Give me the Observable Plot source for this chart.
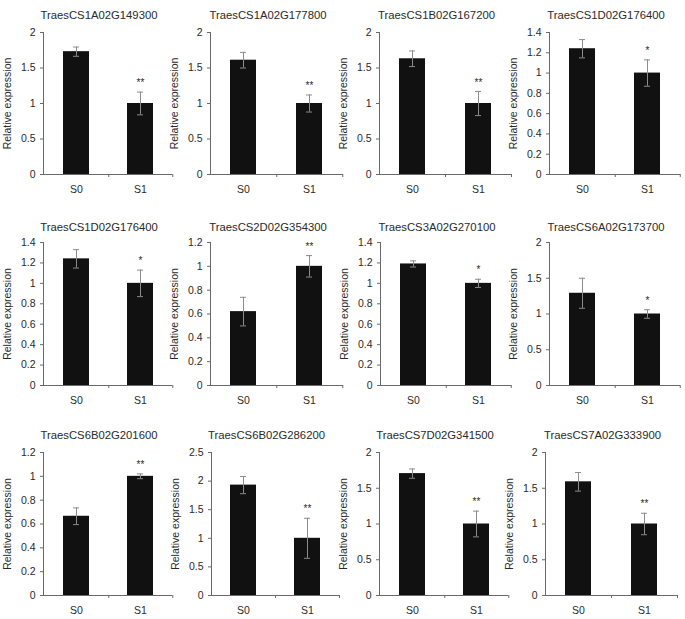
<!DOCTYPE html>
<html><head><meta charset="utf-8">
<script src="https://cdn.jsdelivr.net/npm/d3@7"></script>
<script src="https://cdn.jsdelivr.net/npm/@observablehq/plot@0.6"></script>
<style>
body{margin:0;background:#fff;}
#wrap{position:relative;width:685px;height:619px;overflow:hidden;background:#fff;}
#wrap svg{position:absolute;overflow:visible;max-width:none;}
</style></head><body><div id="wrap"></div>
<script>
// ---- data ----
const genes = ["TraesCS1A02G149300","TraesCS1A02G177800","TraesCS1B02G167200","TraesCS1D02G176400",
               "TraesCS1D02G176400","TraesCS2D02G354300","TraesCS3A02G270100","TraesCS6A02G173700",
               "TraesCS6B02G201600","TraesCS6B02G286200","TraesCS7D02G341500","TraesCS7A02G333900"];
const groups = ["S0","S1"];
const s0Mean = [1.73, 1.61, 1.63, 1.24, 1.24, 0.62, 1.19, 1.29, 0.665, 1.93, 1.705, 1.59];
const s0Err  = [0.065,0.11, 0.11, 0.09, 0.09, 0.12, 0.03, 0.21, 0.07, 0.15, 0.065, 0.13];
const s1Mean = [1.0, 1.0, 1.0, 1.0, 1.0, 1.0, 1.0, 1.0, 1.0, 1.0, 1.0, 1.0];
const s1Err  = [0.16, 0.12, 0.17, 0.13, 0.13, 0.09, 0.04, 0.06, 0.02, 0.35, 0.18, 0.15];
const signif = ["**","**","**","*","*","**","*","*","**","**","**","**"];
const yTicks = [
  [0,0.5,1,1.5,2],[0,0.5,1,1.5,2],[0,0.5,1,1.5,2],[0,0.2,0.4,0.6,0.8,1,1.2,1.4],
  [0,0.2,0.4,0.6,0.8,1,1.2,1.4],[0,0.2,0.4,0.6,0.8,1,1.2],[0,0.2,0.4,0.6,0.8,1,1.2,1.4],[0,0.5,1,1.5,2],
  [0,0.2,0.4,0.6,0.8,1,1.2],[0,0.5,1,1.5,2,2.5],[0,0.5,1,1.5,2],[0,0.5,1,1.5,2]
];
const yLabel = "Relative expression";

// ---- layout ----
const rowTop = [32, 242, 452];
const rowH = [142, 143, 143];
const titleOffset = [-22, -20, -22];
const colAxis = [[43,210,379,549],[43,210,380,549],[43,211,379,545]];
const colW = [[129,133,132,131],[129,133,131,131],[129,128,129,132]];
const mL = 43, mR = 6, mB = 30;
const font = "Arial, 'Liberation Sans', sans-serif";
const axisColor = "#6a6a6a", textColor = "#2a2a2a", errColor = "#8c8c8c", barColor = "#111";

const wrap = document.getElementById("wrap");
genes.forEach((gene, i) => {
  const row = Math.floor(i / 4), col = i % 4;
  const plotW = colW[row][col], plotH = rowH[row];
  const mT = rowTop[row];
  const rows = groups.map((g, k) => ({
    g,
    mean: k === 0 ? s0Mean[i] : s1Mean[i],
    err: k === 0 ? s0Err[i] : s1Err[i],
    sig: k === 0 ? "" : signif[i]
  }));
  const yMax = yTicks[i][yTicks[i].length - 1];
  const chart = Plot.plot({
    width: mL + plotW + mR,
    height: mT + plotH + mB,
    marginLeft: mL, marginRight: mR, marginTop: mT, marginBottom: mB,
    style: {fontFamily: font, fontSize: "10.5px", color: textColor, background: "transparent", overflow: "visible"},
    x: {domain: groups, paddingInner: 0.6, paddingOuter: 0.3},
    y: {domain: [0, yMax]},
    marks: [
      Plot.barY(rows, {x: "g", y: "mean", fill: barColor}),
      Plot.ruleX(rows, {x: "g", y1: d => d.mean - d.err, y2: d => d.mean + d.err, stroke: errColor, strokeWidth: 1}),
      Plot.tickY(rows, {x: "g", y: d => d.mean + d.err, stroke: errColor, insetLeft: 10, insetRight: 10}),
      Plot.tickY(rows, {x: "g", y: d => d.mean - d.err, stroke: errColor, insetLeft: 10, insetRight: 10}),
      Plot.text(rows.filter(d => d.sig), {x: "g", y: d => d.mean + d.err, text: "sig", dy: -9, fontSize: 10, fill: textColor}),
      Plot.ruleY([0], {stroke: axisColor}),
      Plot.frame({anchor: "left", stroke: axisColor}),
      Plot.axisY({ticks: yTicks[i], tickFormat: d3.format("~g"), tickSize: 3, tickPadding: 5, stroke: axisColor, fill: textColor,
                  label: yLabel, labelAnchor: "center", labelArrow: "none"}),
      Plot.axisX({tickSize: 0, tickPadding: 11, label: null, fill: textColor}),
      Plot.axisX({tickSize: 3, tickFormat: () => "", label: null, stroke: axisColor, dx: plotW / 4}),
      Plot.text([gene], {frameAnchor: "top", dy: titleOffset[row], dx: -9, fontSize: 11.3, fill: textColor})
    ]
  });
  chart.style.left = (colAxis[row][col] - mL) + "px";
  chart.style.top = "0px";
  wrap.appendChild(chart);
});
</script>
</body></html>
